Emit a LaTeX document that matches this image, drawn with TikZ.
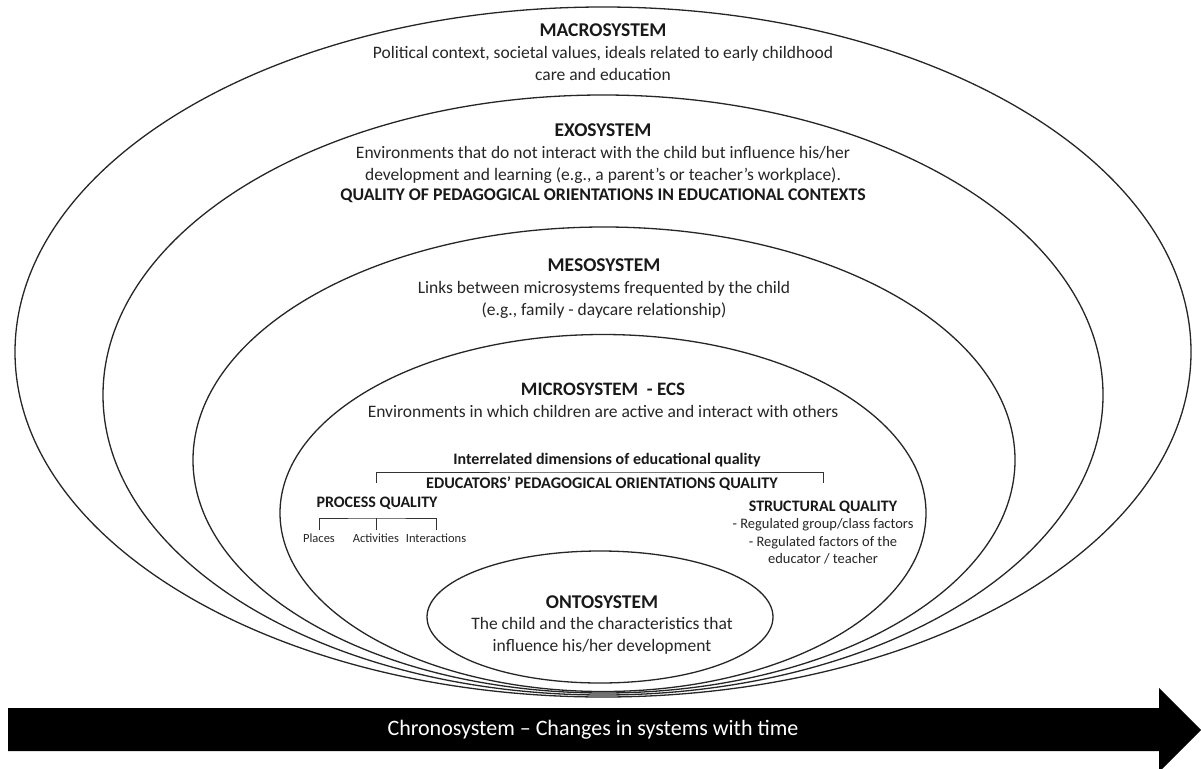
\documentclass[tikz,border=0pt]{standalone}
\usepackage{fontspec}
\setmainfont{Carlito}
\usetikzlibrary{positioning,shapes.geometric}

\begin{document}
\begin{tikzpicture}[
		x=1pt, y=-1pt,
		sphere/.style={ellipse, draw=black!85, fill=white, line width=1.3pt, inner sep=0pt},
		systitle/.style={font=\fontsize{19.5}{22}\selectfont\bfseries, text=black!90, inner sep=0pt},
		sysdesc/.style={font=\fontsize{17.5}{22}\selectfont, text=black!85, align=center, inner sep=0pt},
		qualtitle/.style={font=\fontsize{16}{19}\selectfont\bfseries, text=black!90, inner sep=0pt},
		qualitem/.style={font=\fontsize{12.5}{15}\selectfont, text=black!85, inner sep=0pt},
		bracket/.style={draw=black!80, line width=0.9pt},
		node distance=9.5pt
		]
		\useasboundingbox (0,0) rectangle (1201,768);
		
		% nested systems
		\node[sphere, minimum width=1176pt, minimum height=690pt] (macro) at (603,352) {};
		\node[sphere, minimum width=1000pt, minimum height=600pt] (exo) at (603,395) {};
		\node[sphere, minimum width=822pt, minimum height=466pt] (meso) at (604,460) {};
		\node[sphere, minimum width=646pt, minimum height=357pt] (micro) at (603,513) {};
		\node[sphere, minimum width=346pt, minimum height=132pt] (onto) at (600,617) {};
		
		% macrosystem
		\node[systitle] (macrotitle) at (603,30) {MACROSYSTEM};
		\node[sysdesc, below=of macrotitle] (macrodesc) {Political context, societal values, ideals related to early childhood\\care and education};
		
		% exosystem
		\node[systitle] (exotitle) at (603,130) {EXOSYSTEM};
		\node[sysdesc, below=of exotitle] (exodesc) {Environments that do not interact with the child but influence his/her\\development and learning (e.g., a parent's or teacher's workplace).};
		\node[qualtitle, font=\fontsize{17.8}{21}\selectfont\bfseries] (exoqual) at (603,196) {QUALITY OF PEDAGOGICAL ORIENTATIONS IN EDUCATIONAL CONTEXTS};
		
		% mesosystem
		\node[systitle] (mesotitle) at (604,265) {MESOSYSTEM};
		\node[sysdesc, below=of mesotitle] (mesodesc) {Links between microsystems frequented by the child\\(e.g., family - daycare relationship)};
		
		% microsystem
		\node[systitle, font=\fontsize{19}{22}\selectfont\bfseries] (microtitle) at (603,389) {MICROSYSTEM ~- ECS};
		\node[sysdesc, below=of microtitle] (microdesc) {Environments in which children are active and interact with others};
		
		% dimensions of quality
		\node[qualtitle] (dimtitle) at (607,460) {Interrelated dimensions of educational quality};
		\coordinate (dimleft) at (376,483);
		\coordinate (dimright) at (823,483);
		\draw[bracket] (dimleft) |- (600,472) -| (dimright);
		\node[qualtitle, font=\fontsize{16.2}{19}\selectfont\bfseries] (educqual) at (602,484) {EDUCATORS’ PEDAGOGICAL ORIENTATIONS QUALITY};
		
		\node[qualtitle] (procqual) at (377,503) {PROCESS QUALITY};
		\coordinate (places) at (319,530);
		\coordinate (activities) at (376,530);
		\coordinate (interactions) at (436,530);
		\draw[bracket] (places) |- (376,518) -| (interactions);
		\draw[bracket] (376,518) -- (activities);
		\node[qualitem, below=4pt of places] (placeslabel) {Places};
		\node[qualitem, below=4pt of activities] (activitieslabel) {Activities};
		\node[qualitem, below=4pt of interactions] (interactionslabel) {Interactions};
		
		\node[qualtitle] (structqual) at (823,507) {STRUCTURAL QUALITY};
		\node[font=\fontsize{14.5}{17.5}\selectfont, text=black!85, align=center, inner sep=0pt, below=5pt of structqual] (structdesc) {- Regulated group/class factors\\- Regulated factors of the\\educator / teacher};
		
		% ontosystem
		\node[systitle] (ontotitle) at (602,602) {ONTOSYSTEM};
		\node[sysdesc, below=8.5pt of ontotitle] (ontodesc) {The child and the characteristics that\\influence his/her development};
		
		% chronosystem
		\fill[black] (8,708) -- (1159,708) -- (1159,688) -- (1201,730) -- (1159,772) -- (1159,751) -- (8,751) -- cycle;
		\node[font=\fontsize{22}{25}\selectfont, text=white, inner sep=0pt] (chrono) at (593,730) {Chronosystem – Changes in systems with time};
	\end{tikzpicture}
\end{document}
